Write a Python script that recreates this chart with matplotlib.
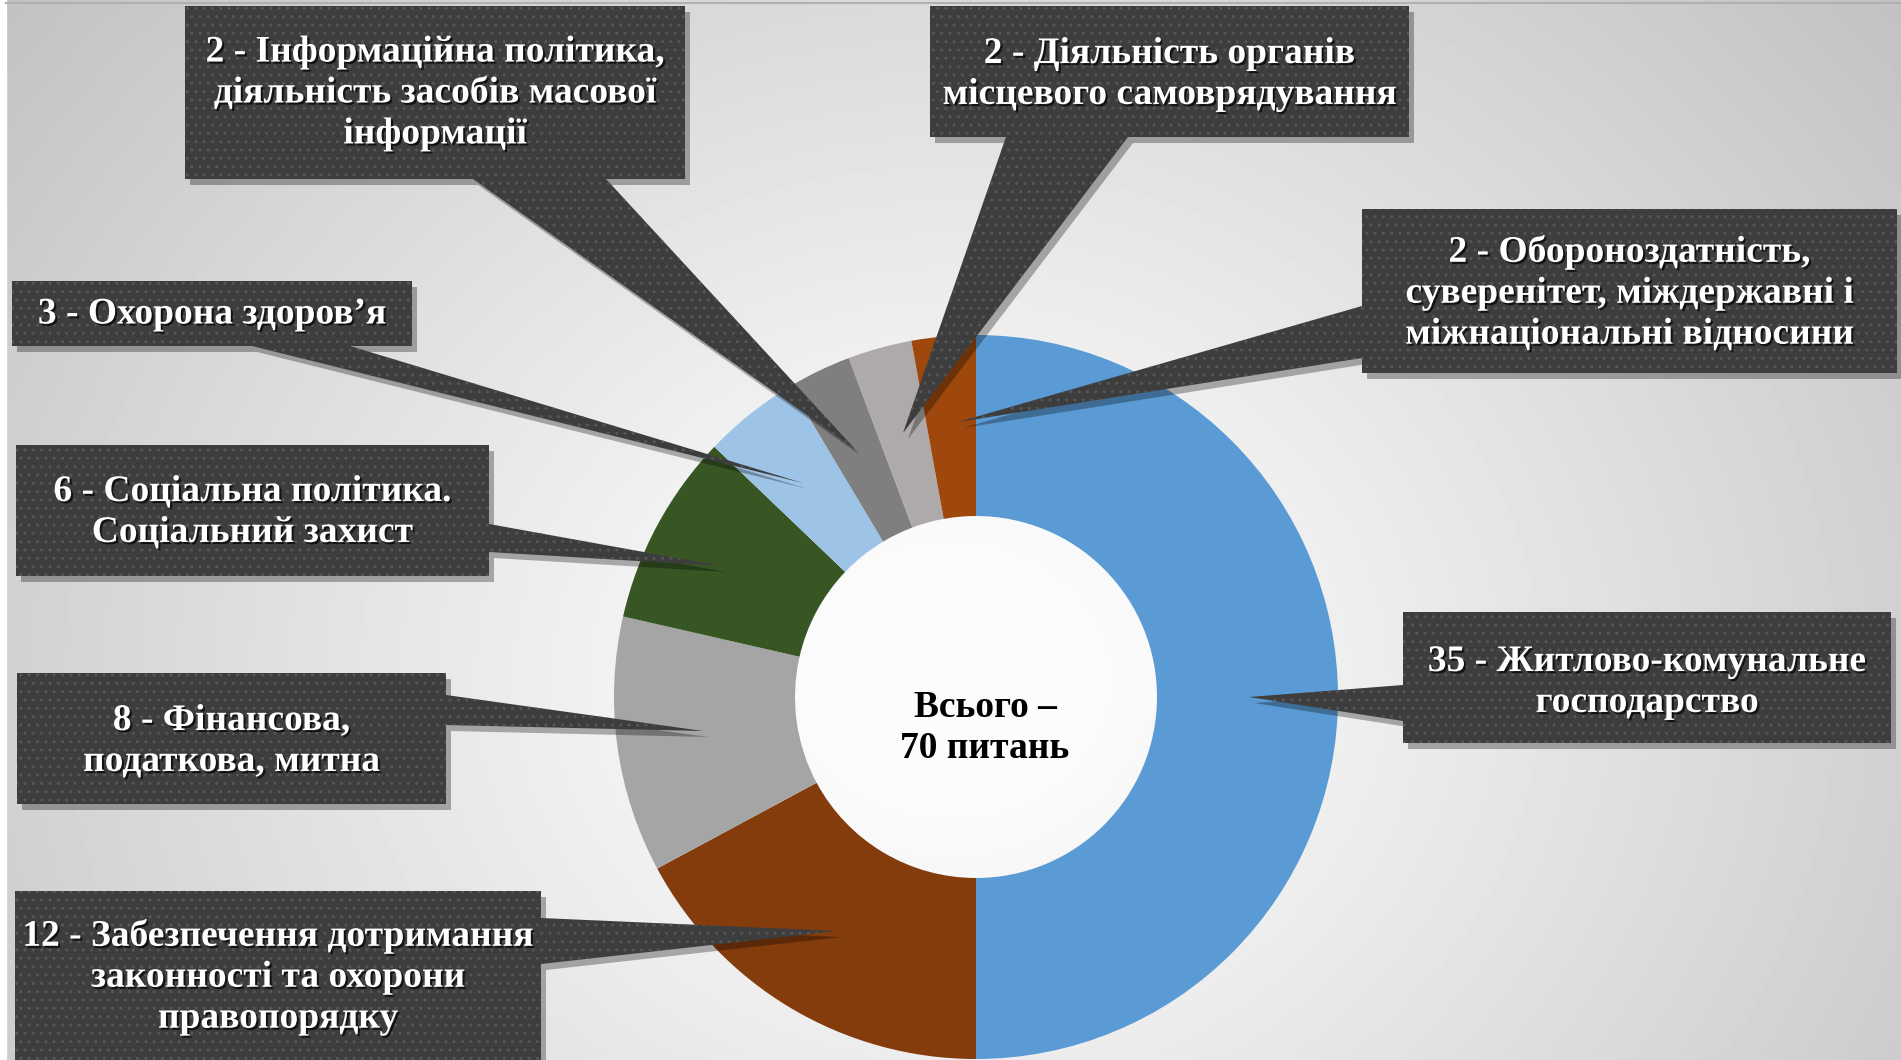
import numpy as np
import matplotlib
matplotlib.use('Agg')
import matplotlib.pyplot as plt
import matplotlib.patheffects as pe
from matplotlib.patches import Polygon, Rectangle

# ---- data ----
values = [35, 12, 8, 6, 3, 2, 2, 2]
labels = [
    '35 - Житлово-комунальне\nгосподарство',
    '12 - Забезпечення дотримання\nзаконності та охорони\nправопорядку',
    '8 - Фінансова,\nподаткова, митна',
    '6 - Соціальна політика.\nСоціальний захист',
    '3 - Охорона здоров’я',
    '2 - Інформаційна політика,\nдіяльність засобів масової\nінформації',
    '2 - Діяльність органів\nмісцевого самоврядування',
    '2 - Обороноздатність,\nсуверенітет, міждержавні і\nміжнаціональні відносини',
]
colors = ['#5B9BD5', '#843C0C', '#A5A5A5', '#375623',
          '#9DC3E6', '#7F7F7F', '#AEAAAA', '#9E480E']
center_text = 'Всього –\n70 питань'

W, H = 1901, 1060
cx, cy, R = 976, 697, 362

# callout layout: box (x0, y0, x1, y1), pointer base points, tip
callouts = [
    ((1403, 612, 1891, 743), [(1403, 685), (1403, 721)], (1249, 697)),
    ((15, 891, 541, 1075), [(541, 918), (541, 964)], (837, 931)),
    ((17, 673, 446, 804), [(446, 695), (446, 725)], (703, 731)),
    ((16, 445, 489, 576), [(489, 524), (489, 552)], (721, 566)),
    ((12, 281, 412, 346), [(252, 346), (350, 346)], (803, 483)),
    ((185, 6, 685, 179), [(473, 179), (606, 179)], (855, 449)),
    ((930, 6, 1409, 137), [(1006, 137), (1128, 137)], (903, 433)),
    ((1362, 209, 1897, 373), [(1362, 306), (1362, 358)], (958, 422)),
]
text_y = [682, 977, 741, 512, 314, 93, 74, 293]

fig = plt.figure(figsize=(W / 100, H / 100), dpi=100)
ax = fig.add_axes([0, 0, 1, 1])

# background radial gradient
yy, xx = np.mgrid[0:H, 0:W]
d = np.sqrt(((xx - 950) / 1.15) ** 2 + (yy - 680) ** 2) / 1000.0
bg = np.clip(0.985 - 0.24 * np.clip(d - 0.12, 0, None) ** 1.05, 0.76, 1.0)
ax.imshow(bg, cmap='gray', vmin=0, vmax=1, extent=(0, W, H, 0), zorder=0)
ax.add_patch(Rectangle((0, 0), 6, H, color='white', zorder=1))
ax.plot([6, W], [3, 3], color='#b0b0b0', lw=1.5, zorder=1)

# donut
ax.pie(values, colors=colors, startangle=-90, counterclock=True,
       radius=R, center=(cx, cy),
       wedgeprops=dict(width=R * 0.5, linewidth=0))

ax.text(cx + 9, 728, center_text, ha='center', va='center',
        fontsize=27, fontweight='bold', family='Liberation Serif',
        color='black', linespacing=1.22, zorder=5)


def callout_poly(box, base, tip):
    x0, y0, x1, y1 = box
    (bx1, by1), (bx2, by2) = base
    if by1 == by2 and by1 == y1:      # bottom edge
        pts = [(x0, y0), (x1, y0), (x1, y1), (bx2, by2), tip, (bx1, by1), (x0, y1)]
    elif bx1 == bx2 and bx1 == x1:    # right edge
        pts = [(x0, y0), (x1, y0), (bx1, by1), tip, (bx2, by2), (x1, y1), (x0, y1)]
    else:                             # left edge
        pts = [(x0, y0), (x1, y0), (x1, y1), (x0, y1), (bx2, by2), tip, (bx1, by1)]
    return pts


for i, (box, base, tip) in enumerate(callouts):
    pts = callout_poly(box, base, tip)
    shadow = [(x + 5, y + 6) for x, y in pts]
    ax.add_patch(Polygon(shadow, closed=True, facecolor='black', alpha=0.3,
                         linewidth=0, zorder=6))
    ax.add_patch(Polygon(pts, closed=True, facecolor='#3d3d3d',
                         linewidth=0, zorder=7))
    ax.add_patch(Polygon(pts, closed=True, facecolor='none', edgecolor='#565656',
                         hatch='..', linewidth=0, zorder=8))
    x0, y0, x1, y1 = box
    ax.text((x0 + x1) / 2, text_y[i], labels[i], ha='center', va='center',
            fontsize=27, fontweight='bold', family='Liberation Serif',
            color='white', linespacing=1.22, zorder=9,
            path_effects=[pe.SimplePatchShadow(offset=(1.5, -1.5), shadow_rgbFace='black', alpha=0.7),
                          pe.Normal()])

ax.set_xlim(0, W)
ax.set_ylim(H, 0)
ax.set_aspect('auto')
ax.axis('off')

fig.savefig('out.png', dpi=100)
